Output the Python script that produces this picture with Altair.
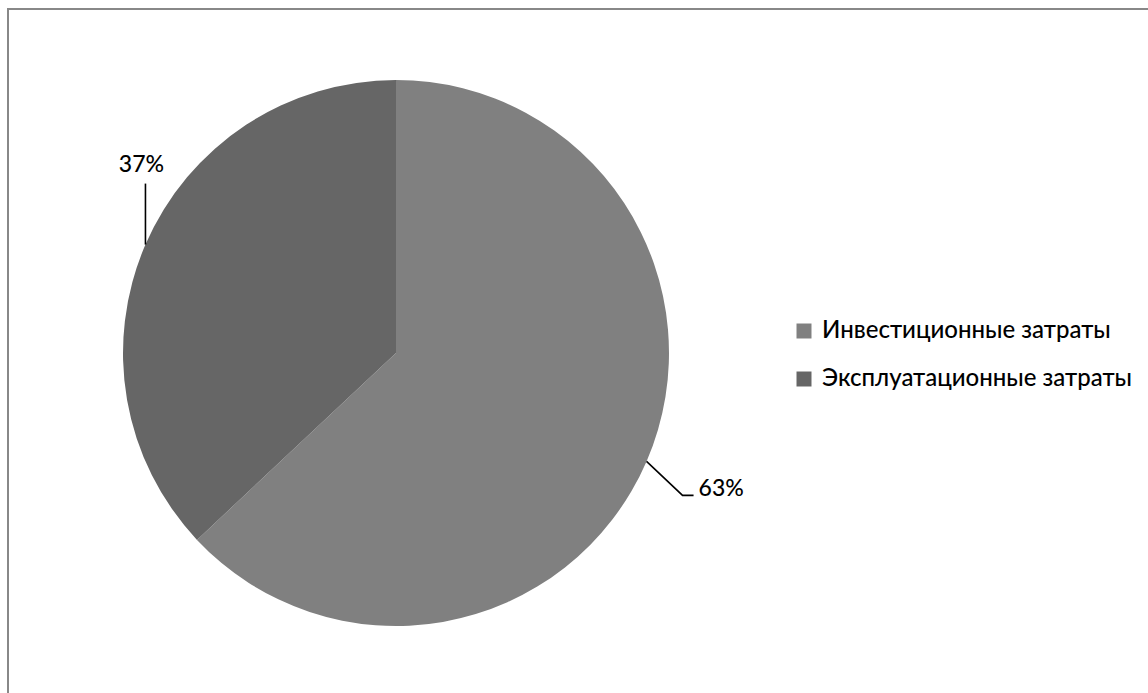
import altair as alt
import pandas as pd
import numpy as np

categories = ["Инвестиционные затраты", "Эксплуатационные затраты"]
shares = [63, 37]
labels = ["63%", "37%"]
colors = ["#808080", "#666666"]

W, H = 1148, 693
CX, CY, R = 396, 353, 273
FONT = "Lato, Open Sans, sans-serif"

df = pd.DataFrame({"cat": categories, "share": shares, "label": labels, "ord": [0, 1]})

# leader lines and label positions derived from the slice angles
total = sum(shares)
cum = np.cumsum([0] + shares[:-1])
line_rows, text_rows = [], []
for i, (c, s, lab) in enumerate(zip(categories, shares, labels)):
    mid = (cum[i] + s / 2) / total * 2 * np.pi
    sx, sy = CX + R * np.sin(mid), CY - R * np.cos(mid)
    if np.sin(mid) < 0:
        pts = [(sx, sy), (sx, sy - 61)]
        text_rows.append({"label": lab, "x": sx - 4, "y": sy - 80, "align": "center"})
    else:
        pts = [(sx, sy), (sx + 36, sy + 34), (sx + 47, sy + 34)]
        text_rows.append({"label": lab, "x": sx + 52, "y": sy + 28, "align": "left"})
    for k, (px, py) in enumerate(pts):
        line_rows.append({"cat": c, "k": k, "x": px, "y": py})
lines = pd.DataFrame(line_rows)
texts = pd.DataFrame(text_rows)

xs = alt.Scale(domain=[0, W], range=[0, W])
ys = alt.Scale(domain=[0, H], range=[0, H])

pie = alt.Chart(df).mark_arc(radius=R, x=CX, y=CY, stroke=None).encode(
    theta=alt.Theta("share:Q", stack=True),
    order=alt.Order("ord:Q"),
    color=alt.Color(
        "cat:N",
        scale=alt.Scale(domain=categories, range=colors),
        sort=categories,
        legend=alt.Legend(
            title=None, orient="none", legendX=792, legendY=319,
            symbolType="square", symbolSize=225, symbolStrokeWidth=0,
            labelFontSize=24, labelFont=FONT, labelColor="#000000", labelLimit=500,
            labelFontWeight=500,
            rowPadding=24, labelOffset=6, symbolOffset=0,
        ),
    ),
)

leader = alt.Chart(lines).mark_line(color="#000000", strokeWidth=1.6).encode(
    x=alt.X("x:Q", scale=xs, axis=None),
    y=alt.Y("y:Q", scale=ys, axis=None),
    detail="cat:N",
    order="k:Q",
)

left_txt = alt.Chart(texts[texts["align"] == "center"]).mark_text(
    fontSize=23, font=FONT, fontWeight=500, color="#000000", align="center", baseline="middle"
).encode(x=alt.X("x:Q", scale=xs, axis=None), y=alt.Y("y:Q", scale=ys, axis=None), text="label:N")

right_txt = alt.Chart(texts[texts["align"] == "left"]).mark_text(
    fontSize=23, font=FONT, fontWeight=500, color="#000000", align="left", baseline="middle"
).encode(x=alt.X("x:Q", scale=xs, axis=None), y=alt.Y("y:Q", scale=ys, axis=None), text="label:N")

frame_left = alt.Chart(df).mark_rule(color="#888888", strokeWidth=2).encode(
    x=alt.value(8), y=alt.value(8), y2=alt.value(H)
)
frame_top = alt.Chart(df).mark_rule(color="#888888", strokeWidth=2).encode(
    x=alt.value(7), x2=alt.value(W), y=alt.value(9)
)

chart = alt.layer(frame_left, frame_top, pie, leader, left_txt, right_txt).properties(
    width=W, height=H, padding=0, autosize=alt.AutoSizeParams(type="none"), background="white"
).configure_view(stroke=None)

chart.save("out.html", embed_options={"renderer": "svg", "actions": False})
